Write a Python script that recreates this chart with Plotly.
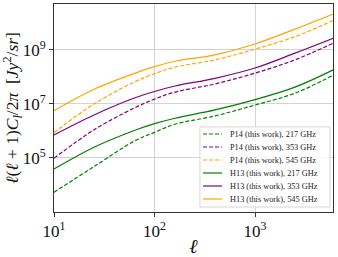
import plotly.graph_objects as go

# ---- data ----
ell = [10, 25, 62, 100, 160, 400, 1000, 2500, 6000]

p14_217 = [5.4e3, 4.8e4, 4.1e5, 8.9e5, 1.78e6, 3.6e6, 9.1e6, 2.5e7, 1.17e8]
p14_353 = [9.8e4, 1.1e6, 6.9e6, 1.51e7, 2.75e7, 5.5e7, 1.38e8, 4.3e8, 1.78e9]
p14_545 = [8.7e5, 1.0e7, 6.3e7, 1.32e8, 2.3e8, 4.3e8, 1.07e9, 3.1e9, 1.23e10]
h13_217 = [3.9e4, 2.5e5, 1.02e6, 1.86e6, 2.95e6, 6.0e6, 1.45e7, 4.2e7, 1.82e8]
h13_353 = [7.1e5, 3.9e6, 1.62e7, 2.9e7, 4.6e7, 8.9e7, 2.14e8, 7.6e8, 2.7e9]
h13_545 = [5.6e6, 3.5e7, 1.32e8, 2.4e8, 3.8e8, 6.6e8, 1.66e9, 5.9e9, 2.14e10]

series_names = [
    "P14 (this work), 217 GHz",
    "P14 (this work), 353 GHz",
    "P14 (this work), 545 GHz",
    "H13 (this work), 217 GHz",
    "H13 (this work), 353 GHz",
    "H13 (this work), 545 GHz",
]
series_values = [p14_217, p14_353, p14_545, h13_217, h13_353, h13_545]
series_colors = ["green", "purple", "orange", "green", "purple", "orange"]
series_dash = ["4px,2px", "4px,2px", "4px,2px", "solid", "solid", "solid"]

x_tickvals = [10, 100, 1000]
x_ticktext = ["10<sup>1</sup>", "10<sup>2</sup>", "10<sup>3</sup>"]
y_tickvals = [1e5, 1e7, 1e9]
y_ticktext = ["10<sup>5</sup>", "10<sup>7</sup>", "10<sup>9</sup>"]

FONT = "Liberation Serif"

fig = go.Figure()
for name, vals, col, dash in zip(series_names, series_values, series_colors, series_dash):
    fig.add_trace(go.Scatter(
        x=ell, y=vals, name=name, mode="lines",
        line=dict(color=col, width=1.2, dash=dash, shape="spline", smoothing=1.0),
        showlegend=False,
    ))

# ---- compact legend box (matplotlib style) ----
box_x0, box_x1, box_y0, box_y1 = 0.523, 0.989, 0.024, 0.409
fig.add_shape(type="rect", xref="paper", yref="paper",
              x0=box_x0, x1=box_x1, y0=box_y0, y1=box_y1,
              line=dict(color="#d6d6d6", width=1), fillcolor="rgba(255,255,255,0.85)",
              layer="above")
top_y, step = 0.375, 0.0625
for i, (name, col, dash) in enumerate(zip(series_names, series_colors, series_dash)):
    yy = top_y - i * step
    fig.add_shape(type="line", xref="paper", yref="paper",
                  x0=0.534, x1=0.602, y0=yy, y1=yy,
                  line=dict(color=col, width=1.2, dash=dash), layer="above")
    fig.add_annotation(xref="paper", yref="paper", x=0.622, y=yy,
                       text=name, showarrow=False, xanchor="left", yanchor="middle",
                       font=dict(family=FONT, size=8.3, color="#222"))

fig.update_layout(
    width=338, height=257,
    margin=dict(l=54, r=5, t=4, b=45),
    paper_bgcolor="white", plot_bgcolor="white",
    font=dict(family=FONT, color="#111"),
    showlegend=False,
)
fig.update_xaxes(
    type="log", range=[1, 3.776], automargin=False,
    tickmode="array", tickvals=x_tickvals, ticktext=x_ticktext,
    tickfont=dict(family=FONT, size=17),
    showgrid=True, gridcolor="#d3d3d3", gridwidth=1,
    showline=True, linecolor="#333", linewidth=1, mirror=True,
    ticks="outside", ticklen=4, tickcolor="#333",
    zeroline=False,
    title=dict(text="<i>ℓ</i>", font=dict(family=FONT, size=20)),
)
fig.update_yaxes(
    type="log", range=[3.0, 10.7], automargin=False,
    tickmode="array", tickvals=y_tickvals, ticktext=y_ticktext,
    tickfont=dict(family=FONT, size=17),
    showgrid=True, gridcolor="#d3d3d3", gridwidth=1,
    showline=True, linecolor="#333", linewidth=1, mirror=True,
    ticks="outside", ticklen=4, tickcolor="#333",
    zeroline=False,
    title=dict(text="<i>ℓ</i>(<i>ℓ</i> + 1)<i>C<sub>l</sub></i>/2<i>π</i>  [<i>Jy</i><sup>2</sup>/<i>sr</i>]",
               font=dict(family=FONT, size=17.5)),
)

fig.write_html("out.html", config={"displayModeBar": False},
               post_script="document.body.style.margin='0';")
